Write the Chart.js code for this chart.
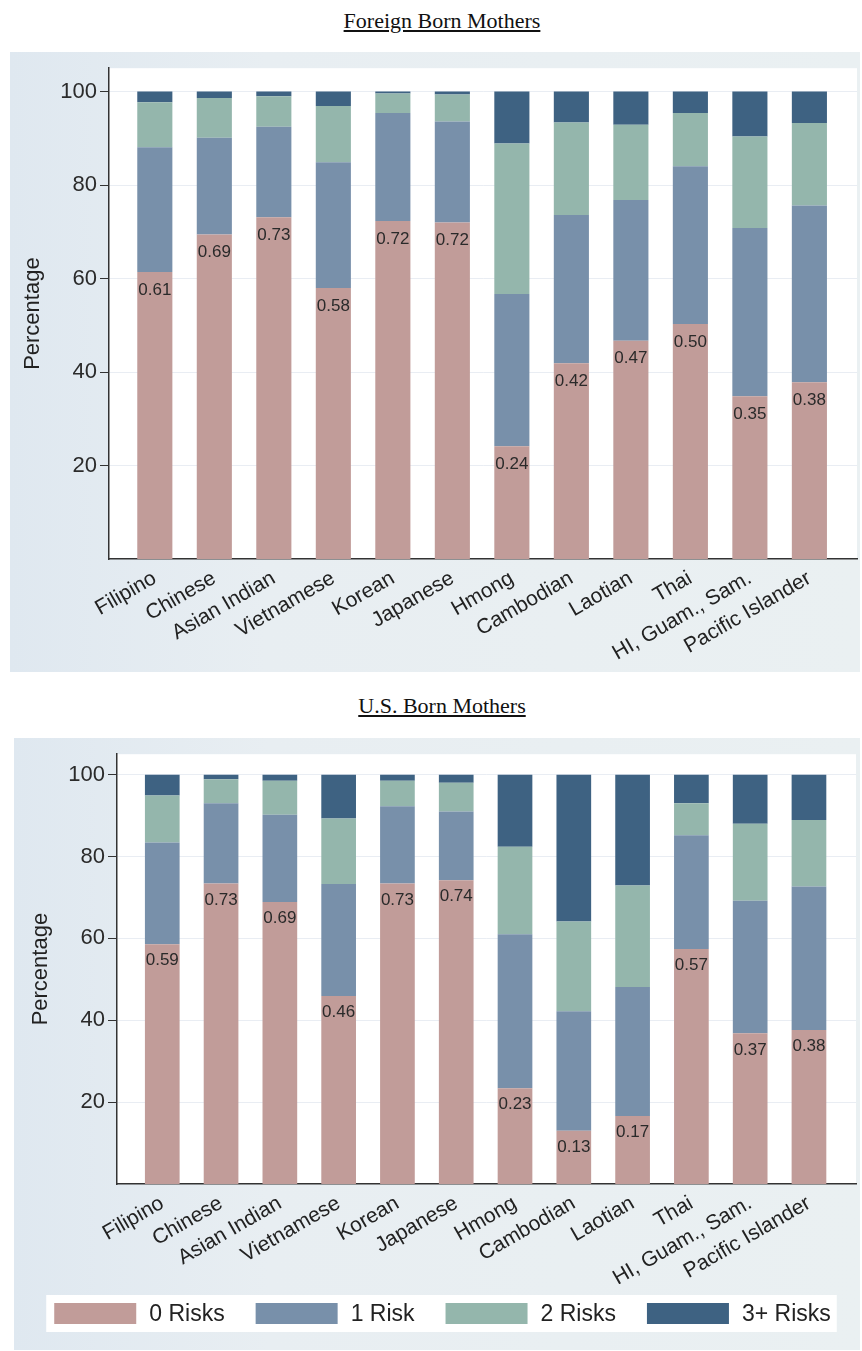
<!DOCTYPE html>
<html>
<head>
<meta charset="utf-8">
<script src="https://cdn.jsdelivr.net/npm/chart.js@4.4.1/dist/chart.umd.min.js"></script>
<style>
body { margin: 0; background: #fff; }
#page { position: relative; width: 862px; height: 1351px; overflow: hidden; }
.title {
    position: absolute; left: 0; width: 884px; text-align: center;
    font-family: 'Liberation Serif', 'Times New Roman', serif; font-size: 22px;
    line-height: 26px; text-decoration: underline; color: #111;
}
.panel { position: absolute; }
</style>
</head>
<body>
<div id="page">
    <div class="title" style="top:8px">Foreign Born Mothers</div>
    <div class="panel" style="left:10px;width:850px;top:52px;height:620px"><canvas id="foreignChart"></canvas></div>
    <div class="title" style="top:693px">U.S. Born Mothers</div>
    <div class="panel" style="left:14px;width:846px;top:738px;height:612px"><canvas id="usChart"></canvas></div>
</div>
<script>
// ─── Data ────────────────────────────────────────────────────────
const categories = ['Filipino', 'Chinese', 'Asian Indian', 'Vietnamese', 'Korean', 'Japanese',
    'Hmong', 'Cambodian', 'Laotian', 'Thai', 'HI, Guam., Sam.', 'Pacific Islander'];
const riskLabels = ['0 Risks', '1 Risk', '2 Risks', '3+ Risks'];
const yTicks = [20, 40, 60, 80, 100];

// Foreign born mothers, % of births by number of risks
const foreign0 = [61.4, 69.4, 73.1, 58.0, 72.3, 72.0, 24.1, 41.9, 46.7, 50.3, 34.8, 37.8];
const foreign1 = [26.7, 20.7, 19.4, 26.9, 23.1, 21.6, 32.6, 31.7, 30.1, 33.7, 36.0, 37.8];
const foreign2 = [9.6, 8.5, 6.5, 12.0, 4.2, 5.8, 32.2, 19.8, 16.1, 11.4, 19.6, 17.7];
const foreign3 = [2.3, 1.4, 1.0, 3.1, 0.4, 0.6, 11.1, 6.6, 7.1, 4.6, 9.6, 6.7];

// U.S. born mothers
const us0 = [58.6, 73.4, 68.9, 45.9, 73.4, 74.2, 23.4, 13.0, 16.6, 57.4, 36.8, 37.6];
const us1 = [24.8, 19.6, 21.3, 27.4, 18.9, 16.8, 37.6, 29.2, 31.5, 27.8, 32.4, 35.1];
const us2 = [11.5, 5.9, 8.3, 16.0, 6.2, 7.0, 21.4, 21.9, 24.8, 7.8, 18.8, 16.2];
const us3 = [5.1, 1.1, 1.5, 10.7, 1.5, 2.0, 17.6, 35.9, 27.1, 7.0, 12.0, 11.1];

const colors = ['#c19c99', '#7890aa', '#94b6ac', '#3e6282'];

Chart.defaults.font.family = "'Liberation Sans', Arial, sans-serif";
Chart.defaults.color = '#222';

// panel background and white plot area
const panelBg = {
    id: 'panelBg',
    beforeDraw(chart) {
        const { ctx, chartArea: a, width, height } = chart;
        ctx.save();
        const g = ctx.createLinearGradient(0, 0, width, 0);
        g.addColorStop(0, '#dfe8f0');
        g.addColorStop(0.3, '#e8eef2');
        g.addColorStop(1, '#eaf0f2');
        ctx.fillStyle = g;
        ctx.fillRect(0, 0, width, height);
        ctx.fillStyle = '#fff';
        ctx.fillRect(a.left, a.top, a.right - a.left, a.bottom - a.top);
        ctx.restore();
    }
};

// share labels under the top of the 0-risk segment
const shareLabels = {
    id: 'shareLabels',
    afterDatasetsDraw(chart, args, opts) {
        const { ctx } = chart;
        const meta = chart.getDatasetMeta(0);
        const vals = chart.data.datasets[0].data;
        ctx.save();
        ctx.font = "17px 'Liberation Sans', Arial, sans-serif";
        ctx.fillStyle = '#2a2a2a';
        ctx.textAlign = 'center';
        ctx.textBaseline = 'middle';
        meta.data.forEach((bar, i) => {
            ctx.fillText((vals[i].y / 100).toFixed(2), bar.x, bar.y + opts.offset);
        });
        ctx.restore();
    }
};

// one-row legend in a white box below the axis labels
const riskLegend = {
    id: 'riskLegend',
    afterDraw(chart, args, opts) {
        if (!opts.display) return;
        const { ctx } = chart;
        const boxW = 82, boxH = 21, textGap = 13, gap = 31;
        ctx.save();
        ctx.font = "23px 'Liberation Sans', Arial, sans-serif";
        const items = chart.data.datasets.map(ds => ({
            text: ds.label, color: ds.backgroundColor, w: ctx.measureText(ds.label).width
        }));
        const total = items.reduce((s, it) => s + boxW + textGap + it.w, 0) + gap * (items.length - 1);
        let x = opts.centerX - total / 2;
        const top = opts.top;
        ctx.fillStyle = '#fff';
        ctx.fillRect(x - 8, top - 8, total + 14, boxH + 16);
        ctx.textBaseline = 'middle';
        ctx.textAlign = 'left';
        items.forEach(it => {
            ctx.fillStyle = it.color;
            ctx.fillRect(x, top, boxW, boxH);
            ctx.fillStyle = '#222';
            ctx.fillText(it.text, x + boxW + textGap, top + boxH / 2 + 1);
            x += boxW + textGap + it.w + gap;
        });
        ctx.restore();
    }
};

function makeChart(id, series, cfg) {
    new Chart(document.getElementById(id), {
        type: 'bar',
        data: {
            datasets: series.map((vals, k) => ({
                label: riskLabels[k],
                data: vals.map((v, i) => ({ x: i, y: v })),
                backgroundColor: colors[k],
                borderWidth: 0,
                categoryPercentage: 1,
                barPercentage: 0.59
            }))
        },
        options: {
            responsive: true,
            maintainAspectRatio: false,
            animation: false,
            devicePixelRatio: 1,
            layout: { padding: cfg.padding },
            plugins: {
                legend: { display: false },
                tooltip: { enabled: false },
                shareLabels: { offset: cfg.labelOffset },
                riskLegend: cfg.legend
            },
            scales: {
                x: {
                    type: 'linear',
                    offset: false,
                    stacked: true,
                    min: -0.77,
                    max: 11.8,
                    afterBuildTicks: ax => { ax.ticks = categories.map((c, i) => ({ value: i })); },
                    afterFit: ax => { ax.height = cfg.xHeight; },
                    ticks: {
                        autoSkip: false, minRotation: 30, maxRotation: 30, padding: 7,
                        font: { size: 21 }, color: '#222',
                        callback: v => categories[v]
                    },
                    grid: { display: false, drawTicks: false },
                    border: { color: '#333', width: 1.5 }
                },
                y: {
                    stacked: true,
                    min: 0,
                    max: 105,
                    afterBuildTicks: ax => { ax.ticks = yTicks.map(v => ({ value: v })); },
                    afterFit: ax => { ax.width = cfg.yWidth; },
                    ticks: { font: { size: 22 }, color: '#2b2b2b', padding: 3 },
                    grid: { color: '#e9edf3', tickColor: '#333', tickLength: 9 },
                    border: { color: '#333', width: 1.5 },
                    title: {
                        display: true, text: 'Percentage', font: { size: 22 }, color: '#222',
                        padding: { top: cfg.titlePad, bottom: 0 }
                    }
                }
            }
        },
        plugins: [panelBg, shareLabels, riskLegend]
    });
}

makeChart('foreignChart', [foreign0, foreign1, foreign2, foreign3], {
    padding: { top: 16, right: 3, left: 0, bottom: 0 },
    xHeight: 113, yWidth: 99, titlePad: 10, labelOffset: 18,
    legend: { display: false }
});

makeChart('usChart', [us0, us1, us2, us3], {
    padding: { top: 16, right: 4, left: 12, bottom: 66 },
    xHeight: 100, yWidth: 91, titlePad: 2, labelOffset: 16.5,
    legend: { display: true, centerX: 428.5, top: 565 }
});
</script>
</body>
</html>
